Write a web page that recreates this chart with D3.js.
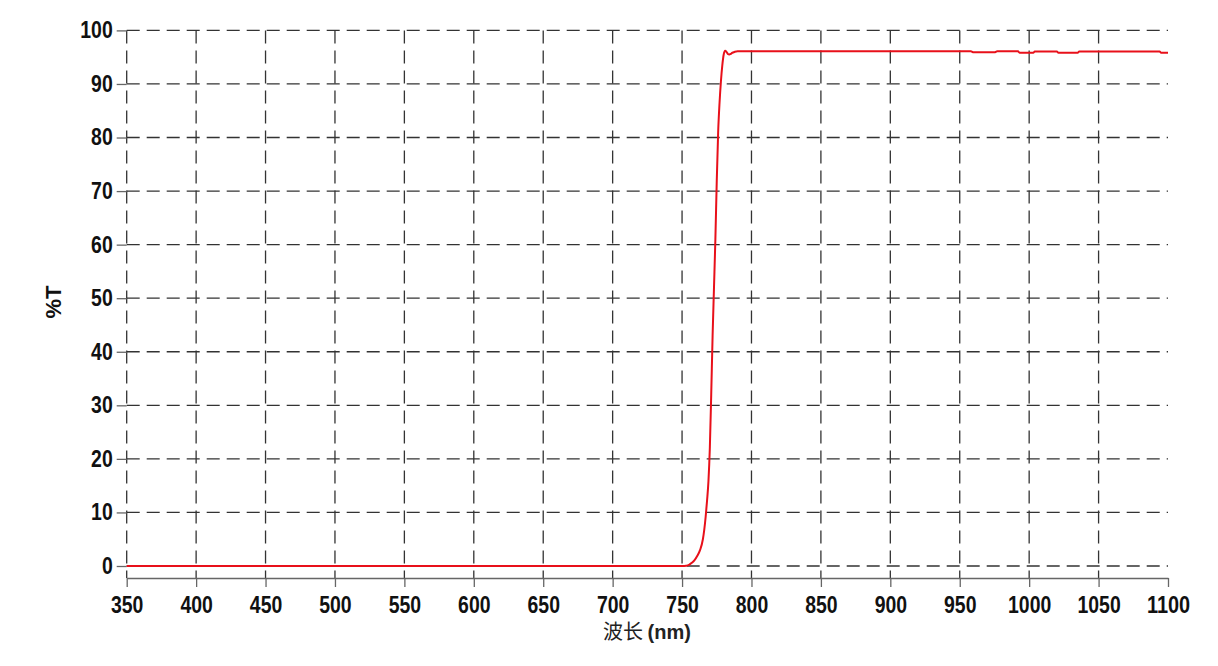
<!DOCTYPE html>
<html>
<head>
<meta charset="utf-8">
<style>
  body { margin: 0; background: #fff; }
  .tick text { font: bold 23px "Liberation Sans", Arial, sans-serif; fill: #111; }
  .grid line { stroke: #333; stroke-width: 1.3; stroke-dasharray: 13,7; }
  .axis path, .axis line { stroke: #666; stroke-width: 1.3; }
  .ytitle { font: bold 22px "Liberation Sans", Arial, sans-serif; fill: #111; }
  .xtitle { font: 20px "Noto Sans CJK SC", "Liberation Sans", sans-serif; fill: #222; }
</style>
<script src="https://d3js.org/d3.v7.min.js"></script>
</head>
<body>
<svg width="1218" height="666"></svg>
<script>
// wavelength (nm) and transmittance (%T)
var wavelength = [350, 400, 450, 500, 550, 600, 650, 700, 750, 753, 755, 757, 759, 761, 763, 765, 766, 767, 768, 769, 770, 771, 772, 773, 774, 775, 776, 777, 778, 779, 780, 781, 782, 783, 784, 785, 786, 788, 790, 800, 850, 900, 950, 958, 960, 975, 977, 992, 993, 1003, 1004, 1020, 1021, 1035, 1036, 1094, 1095, 1100];
var transmittance = [0, 0, 0, 0, 0, 0, 0, 0, 0, 0.05, 0.2, 0.6, 1.1, 1.9, 3.0, 5.0, 6.8, 9.2, 12.2, 15.8, 22, 32, 43, 52, 61, 72, 81, 86.5, 90.5, 93.5, 95.5, 96.2, 96.0, 95.6, 95.5, 95.6, 95.8, 96.0, 96.1, 96.1, 96.1, 96.1, 96.1, 96.1, 95.9, 95.9, 96.1, 96.1, 95.85, 95.85, 96.05, 96.05, 95.85, 95.85, 96.05, 96.05, 95.85, 95.85];
var xTicks = [350, 400, 450, 500, 550, 600, 650, 700, 750, 800, 850, 900, 950, 1000, 1050, 1100];
var yTicks = [0, 10, 20, 30, 40, 50, 60, 70, 80, 90, 100];

var svg = d3.select("svg");
var x = d3.scaleLinear().domain([350, 1100]).range([126.7, 1168]);
var y = d3.scaleLinear().domain([0, 100]).range([566, 30.4]);
var axisY = 578;

// narrow bold digits, like the original
function squeeze(sel) {
  sel.selectAll(".tick text")
     .attr("textLength", function() { return this.textContent.length * 10.8; })
     .attr("lengthAdjust", "spacingAndGlyphs");
}

// horizontal grid
svg.append("g").attr("class", "grid")
   .selectAll("line").data(yTicks).enter().append("line")
   .attr("x1", x(350)).attr("x2", x(1100))
   .attr("y1", function(d) { return y(d); })
   .attr("y2", function(d) { return y(d); });

// vertical grid (no line at 1100)
svg.append("g").attr("class", "grid")
   .selectAll("line").data(xTicks.filter(function(d) { return d < 1100; })).enter().append("line")
   .attr("x1", function(d) { return x(d); })
   .attr("x2", function(d) { return x(d); })
   .attr("y1", y(100)).attr("y2", axisY);

// x axis
var gx = svg.append("g").attr("class", "axis")
   .attr("transform", "translate(0," + axisY + ")")
   .call(d3.axisBottom(x).tickValues(xTicks).tickFormat(d3.format("d"))
         .tickSize(9).tickPadding(10).tickSizeOuter(0));
squeeze(gx);

// y axis: ticks only
var gy = svg.append("g").attr("class", "axis")
   .attr("transform", "translate(" + x(350) + ",0)")
   .call(d3.axisLeft(y).tickValues(yTicks).tickFormat(d3.format("d")).tickSize(10).tickPadding(4));
gy.select(".domain").remove();
squeeze(gy);

// curve
var line = d3.line()
   .x(function(d, i) { return x(wavelength[i]); })
   .y(function(d) { return y(d); })
   .curve(d3.curveMonotoneX);

svg.append("path")
   .datum(transmittance)
   .attr("d", line)
   .attr("fill", "none")
   .attr("stroke", "#e8101a")
   .attr("stroke-width", 2);

// titles
svg.append("text").attr("class", "ytitle")
   .attr("transform", "translate(61,302) rotate(-90)")
   .attr("text-anchor", "middle")
   .attr("textLength", 33).attr("lengthAdjust", "spacingAndGlyphs")
   .text("%T");

svg.append("text").attr("class", "xtitle")
   .attr("x", 647).attr("y", 639)
   .attr("text-anchor", "middle")
   .text("波长 ")
   .append("tspan").style("font-weight", "bold").style("font-family", "'Liberation Sans', Arial, sans-serif")
   .text("(nm)");
</script>
</body>
</html>
